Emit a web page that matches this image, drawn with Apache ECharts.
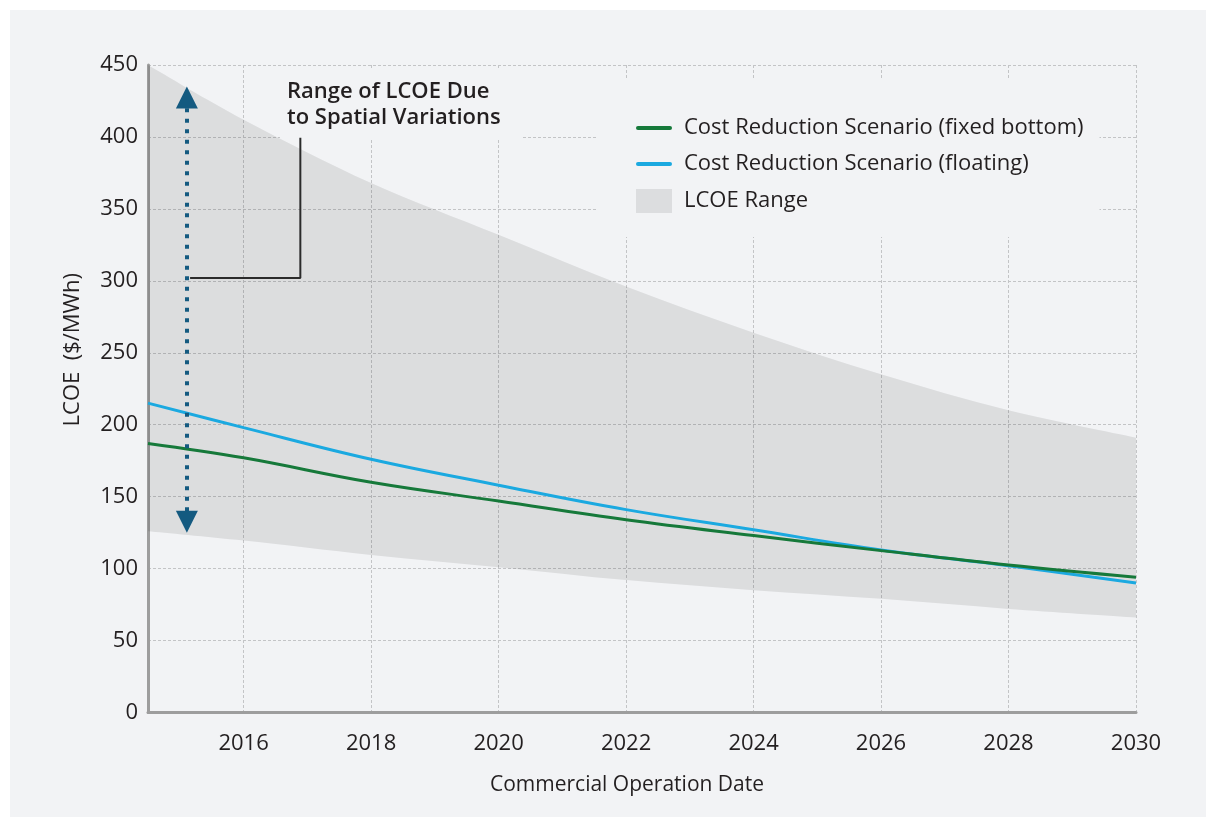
<!DOCTYPE html>
<html><head><meta charset="utf-8">
<script src="https://cdn.jsdelivr.net/npm/echarts@6/dist/echarts.min.js"></script>
<style>
html,body{margin:0;padding:0;background:#ffffff;}
#panel{position:absolute;left:10px;top:10px;width:1196px;height:807px;background:#f2f3f5;}
#chart{position:absolute;left:0;top:0;width:1206px;height:817px;}
</style></head><body>
<div id="panel"></div><div id="chart"></div>
<script>
// ---- data ----
const years        = [2014.5, 2016, 2018, 2020, 2022, 2024, 2026, 2028, 2030];
const fixedBottom  = [187, 177, 160, 147, 134, 123, 112.5, 102.5, 94];
const floating     = [215, 198, 176, 158, 141, 127, 113, 102, 90];
const rangeLow     = [126, 119.5, 109.5, 101, 92, 85, 79, 72, 66];
const rangeHigh    = [450, 412, 368, 332, 296, 264, 235, 210, 191];
const xTickYears   = [2016, 2018, 2020, 2022, 2024, 2026, 2028, 2030];
const seriesNames  = ['Cost Reduction Scenario (fixed bottom)', 'Cost Reduction Scenario (floating)', 'LCOE Range'];
// annotation (data space)
const arrowX       = 2015.11;
const arrowEnds    = [132.5, 427.4];
const connectorPts = [[2015.16, 302], [2016.89, 302], [2016.89, 399.4]];
const annotText    = 'Range of LCOE Due\nto Spatial Variations';

const FONT = '"Open Sans", "DejaVu Sans", sans-serif';
const TXT = '#231f20';
const GRID = '#c3c4c6';
const GREEN = '#16793a';
const BLUE = '#1ba9e0';
const ARROW = '#145a80';

function splineSegs(pts) {
  let d = '';
  for (let i = 0; i < pts.length - 1; i++) {
    const p0 = pts[i - 1] || pts[i], p1 = pts[i], p2 = pts[i + 1], p3 = pts[i + 2] || pts[i + 1];
    const t = 1 / 6;
    const c1 = [p1[0] + (p2[0] - p0[0]) * t, p1[1] + (p2[1] - p0[1]) * t];
    const c2 = [p2[0] - (p3[0] - p1[0]) * t, p2[1] - (p3[1] - p1[1]) * t];
    d += ' C' + c1[0] + ',' + c1[1] + ' ' + c2[0] + ',' + c2[1] + ' ' + p2[0] + ',' + p2[1];
  }
  return d;
}

const lineIcon = 'path://M2,0 L34,0 A2,2 0 0 1 34,4 L2,4 A2,2 0 0 1 2,0 Z';

const chart = echarts.init(document.getElementById('chart'), null, {renderer: 'canvas'});
chart.setOption({
  animation: false,
  backgroundColor: 'transparent',
  textStyle: {fontFamily: FONT, color: TXT},
  grid: {left: 148, right: 70, top: 65, bottom: 104.5, containLabel: false},
  legend: {
    orient: 'vertical', left: 598, top: 80,
    padding: [37, 16, 24, 38], backgroundColor: '#f2f3f5',
    itemWidth: 36, itemHeight: 24, itemGap: 14, selectedMode: false,
    textStyle: {fontFamily: FONT, fontSize: 22, color: TXT, padding: [0, 0, 0, 7]},
    data: [
      {name: seriesNames[0], icon: lineIcon, itemStyle: {color: GREEN, borderWidth: 0}},
      {name: seriesNames[1], icon: lineIcon, itemStyle: {color: BLUE, borderWidth: 0}},
      {name: seriesNames[2], icon: 'rect', itemStyle: {color: '#dcdddf', borderWidth: 0}}
    ]
  },
  xAxis: {
    type: 'value', min: 2014.5, max: 2030,
    axisLine: {show: true, lineStyle: {color: '#9d9d9d', width: 3}},
    axisTick: {show: false, customValues: xTickYears},
    axisLabel: {customValues: xTickYears, fontSize: 22, color: TXT, margin: 20, fontFamily: FONT,
                formatter: function (v) { return String(v); }},
    splitLine: {show: true, lineStyle: {color: GRID, type: [3, 2], width: 1}},
    name: 'Commercial Operation Date', nameLocation: 'middle', nameGap: 62,
    nameTextStyle: {fontSize: 21, color: TXT, fontFamily: FONT, padding: [0, 30, 0, 0]}
  },
  yAxis: {
    type: 'value', min: 0, max: 450, interval: 50,
    axisLine: {show: true, lineStyle: {color: '#9d9d9d', width: 3}},
    axisTick: {show: false},
    axisLabel: {fontSize: 22, color: TXT, margin: 10, fontFamily: FONT},
    splitLine: {show: true, lineStyle: {color: GRID, type: [3, 2], width: 1}},
    name: 'LCOE  ($/MWh)', nameLocation: 'middle', nameGap: 64,
    nameTextStyle: {fontSize: 22, color: TXT, fontFamily: FONT, padding: [0, 0, 0, 78]}
  },
  graphic: [
    {type: 'rect', z: 1, silent: true, shape: {x: 280, y: 69, width: 242, height: 71}, style: {fill: '#f2f3f5'}},
    {type: 'text', z: 10, left: 287, top: 79, silent: true,
     style: {text: annotText, fontFamily: FONT, fontSize: 22, fontWeight: 600, fill: TXT, lineHeight: 26}}
  ],
  series: [
    {
      name: seriesNames[2], type: 'custom', z: 2, silent: true,
      itemStyle: {color: '#dcdddf'},
      data: years.map((x, i) => [x, rangeLow[i], rangeHigh[i]]),
      encode: {x: 0, y: [1, 2]},
      renderItem: function (params, api) {
        if (params.dataIndex !== 0) return null;
        const up = years.map((x, i) => api.coord([x, rangeHigh[i]]));
        const lo = years.map((x, i) => api.coord([x, rangeLow[i]])).reverse();
        const d = 'M' + up[0][0] + ',' + up[0][1] + splineSegs(up) +
                  ' L' + lo[0][0] + ',' + lo[0][1] + splineSegs(lo) + ' Z';
        return {type: 'path', shape: {pathData: d}, style: {fill: 'rgba(0,0,0,0.09)'}};
      }
    },
    {
      name: seriesNames[1], type: 'line', z: 3, smooth: 0.4,
      symbol: 'none', showSymbol: false,
      data: years.map((x, i) => [x, floating[i]]),
      lineStyle: {color: BLUE, width: 3}, itemStyle: {color: BLUE}
    },
    {
      name: seriesNames[0], type: 'line', z: 3, smooth: 0.4,
      symbol: 'none', showSymbol: false,
      data: years.map((x, i) => [x, fixedBottom[i]]),
      lineStyle: {color: GREEN, width: 3}, itemStyle: {color: GREEN}
    },
    {
      name: 'annotation', type: 'line', z: 4, silent: true,
      symbol: 'none', showSymbol: false,
      data: connectorPts,
      lineStyle: {color: '#2b2b2b', width: 2}, itemStyle: {color: '#2b2b2b'},
      markLine: {
        silent: true, symbol: ['triangle', 'triangle'], symbolSize: 22,
        label: {show: false}, emphasis: {disabled: true},
        lineStyle: {color: ARROW, width: 4, type: [4, 6.5]},
        itemStyle: {color: ARROW},
        data: [[{coord: [arrowX, arrowEnds[0]]}, {coord: [arrowX, arrowEnds[1]]}]]
      }
    }
  ]
});
</script>
</body></html>
